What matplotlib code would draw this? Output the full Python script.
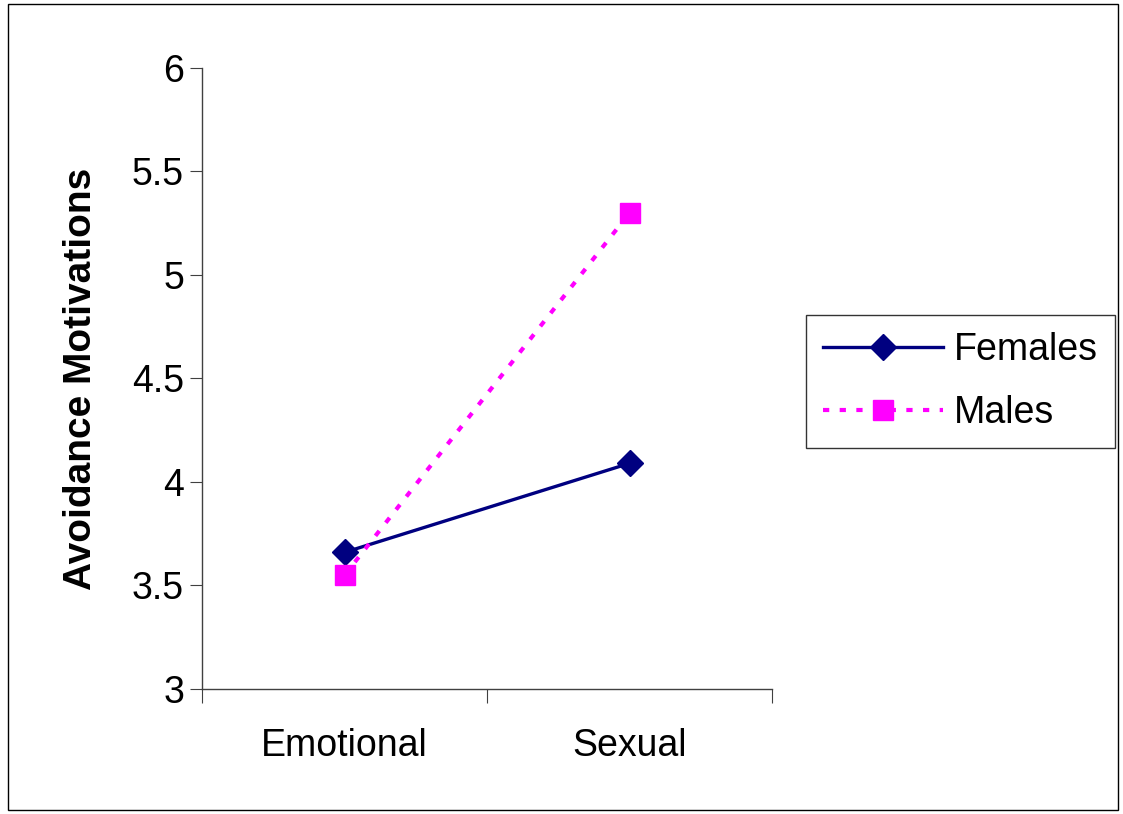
import matplotlib
matplotlib.use('Agg')
import matplotlib.pyplot as plt
from matplotlib.patches import Rectangle

plt.rcParams['font.family'] = ['Liberation Sans', 'DejaVu Sans']

categories = ['Emotional', 'Sexual']
females = [3.66, 4.09]
males = [3.55, 5.30]

fig = plt.figure(figsize=(11.23, 8.14), dpi=100)
ax = fig.add_axes([0.1799, 0.1536, 0.5076, 0.7629])

x = list(range(len(categories)))
ax.plot(x, females, color='#000080', linewidth=2.4, marker='D', markersize=13,
        label='Females')
ax.plot(x, males, color='#FF00FF', linewidth=3.0, linestyle=(0, (1.5, 2.5)),
        marker='s', markersize=15, label='Males')

ax.set_xlim(-0.5, 1.5)
ax.set_ylim(3, 6)
ax.set_yticks([3, 3.5, 4, 4.5, 5, 5.5, 6])
ax.set_yticklabels(['3', '3.5', '4', '4.5', '5', '5.5', '6'])
ax.set_xticks([-0.5, 0.5, 1.5])
ax.set_xticklabels([])
ax.set_xticks(x, minor=True)
ax.set_xticklabels(categories, minor=True)
ax.tick_params(axis='x', which='minor', length=0, labelsize=27, pad=28)
ax.tick_params(axis='x', which='major', direction='out', length=10, color='#404040')
ax.tick_params(axis='y', direction='out', length=9, labelsize=27, pad=4, color='#404040')
for s in ['top', 'right']:
    ax.spines[s].set_visible(False)
for s in ['left', 'bottom']:
    ax.spines[s].set_color('#404040')
    ax.spines[s].set_linewidth(1.0)

ax.set_ylabel('Avoidance Motivations', fontsize=28, fontweight='bold', labelpad=24)

leg = fig.legend(loc='upper left', bbox_to_anchor=(806 / 1123, 1 - 315 / 814),
                 fontsize=27, frameon=True, fancybox=False, edgecolor='black',
                 handlelength=3.2, borderpad=0.45, labelspacing=0.72,
                 handletextpad=0.3, borderaxespad=0)
leg.get_frame().set_linewidth(1.0)

fig.patches.append(Rectangle((8 / 1123, 4 / 814), 1110 / 1123, 806 / 814,
                             transform=fig.transFigure, fill=False,
                             edgecolor='black', linewidth=1.0))

fig.savefig('out.png', dpi=100)
